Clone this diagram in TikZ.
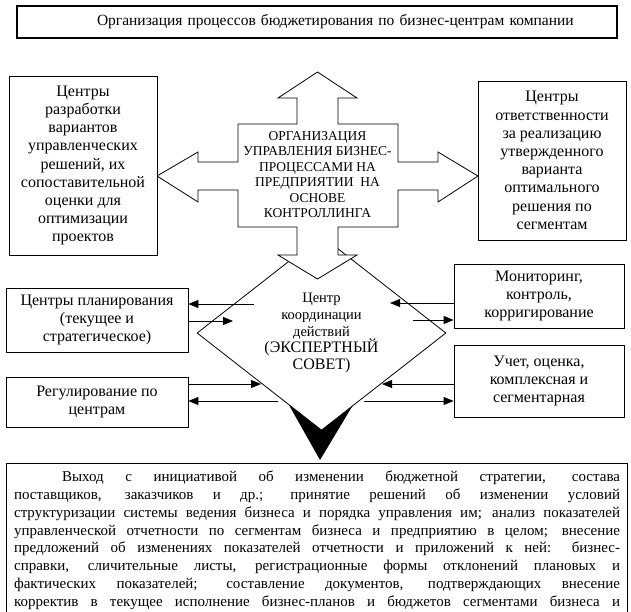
\documentclass[tikz,border=0pt]{standalone}
\usepackage{fontspec}
\setmainfont{Liberation Serif}
\usetikzlibrary{calc,positioning,arrows.meta,shapes}

\begin{document}
\begin{tikzpicture}[x=1pt, y=-1pt, line width=0.8pt]
\tikzstyle{box}=[rectangle, draw, fill=white, inner sep=0pt, align=center,
                 font=\fontsize{16}{18.2}\selectfont]
\tikzstyle{arr}=[-{Triangle[length=10pt,width=8pt]}]
\useasboundingbox (0,0) rectangle (631,612);
\clip (0,0) rectangle (631,612);

\node[box, line width=1.2pt, minimum width=600pt, minimum height=32pt, text width=600pt,
      align=left, font=\fontsize{15.5}{18}\selectfont] (title) at (317,22)
      {\hspace*{80pt}Организация процессов бюджетирования по бизнес-центрам компании};

\fill (285,398) -- (356,400) -- (320,460) -- cycle;
\node[diamond, draw, fill=white, inner sep=0pt, minimum width=249pt, minimum height=187pt,
      align=center, font=\fontsize{14.5}{16.9}\selectfont] (council) at (321.5,333)
      {Центр\\координации\\действий\\{\fontsize{16}{17}\selectfont(ЭКСПЕРТНЫЙ}\\{\fontsize{16}{17}\selectfont СОВЕТ)}};

\draw[fill=white] (317.5,72) -- (357,98) -- (338,98) -- (338,124) -- (398,124) -- (398,162)
  -- (438,162) -- (438,152) -- (478,176) -- (438,202) -- (438,190) -- (398,190)
  -- (398,227) -- (338,227) -- (338,255) -- (357,255) -- (317.5,279) -- (278,255)
  -- (297,255) -- (297,227) -- (238,227) -- (238,190) -- (198,190) -- (198,202)
  -- (157,176) -- (198,152) -- (198,162) -- (238,162) -- (238,124) -- (297,124)
  -- (297,98) -- (278,98) -- cycle;
\node[align=center, inner sep=0pt, font=\fontsize{13.5}{15.4}\selectfont] (org) at (317.5,174.5)
  {ОРГАНИЗАЦИЯ\\УПРАВЛЕНИЯ БИЗНЕС-\\ПРОЦЕССАМИ НА\\ПРЕДПРИЯТИИ\ \ НА\\ОСНОВЕ\\КОНТРОЛЛИНГА};

\node[box, minimum width=148pt, minimum height=179pt] (develop) at (83,165.5)
  {Центры\\разработки\\вариантов\\управленческих\\решений, их\\сопоставительной\\оценки для\\оптимизации\\проектов};
\node[box, minimum width=148pt, minimum height=159pt] (respons) at (552,160.5)
  {Центры\\ответственности\\за реализацию\\утвержденного\\варианта\\оптимального\\решения по\\сегментам};

\node[box, minimum width=182pt, minimum height=64pt] (plan) at (97,320)
  {Центры планирования\\(текущее и\\стратегическое)};
\node[box, minimum width=182pt, minimum height=50pt] (regul) at (97,402)
  {Регулирование по\\центрам};
\node[box, minimum width=170pt, minimum height=64pt] (monit) at (539,296)
  {Мониторинг,\\контроль,\\корригирование};
\node[box, minimum width=170pt, minimum height=72pt] (account) at (539,381)
  {Учет, оценка,\\комплексная и\\сегментарная};

\coordinate (pl1) at (254,304);
\coordinate (pl2) at (233,321);
\coordinate (rg1) at (261,384);
\coordinate (rg2) at (278,401);
\coordinate (mn1) at (390,303);
\coordinate (mn2) at (413,320);
\coordinate (ac1) at (382,384);
\coordinate (ac2) at (364,401);
\draw[arr] (pl1) -- (pl1 -| plan.east);
\draw[arr] (pl2 -| plan.east) -- (pl2);
\draw[arr] (rg1 -| regul.east) -- (rg1);
\draw[arr] (rg2) -- (rg2 -| regul.east);
\draw[arr] (mn1 -| monit.west) -- (mn1);
\draw[arr] (mn2) -- (mn2 -| monit.west);
\draw[arr] (ac1 -| account.west) -- (ac1);
\draw[arr] (ac2) -- (ac2 -| account.west);

\node[draw, line width=1.2pt, anchor=north west, inner xsep=7.5pt, inner ysep=7pt] (output) at (6,463)
  {\parbox[t][170pt][t]{606pt}{\fontsize{15}{17.9}\selectfont\hyphenpenalty=10000\parfillskip=0pt
  \hspace*{48pt}Выход с инициативой об изменении бюджетной стратегии, состава\linebreak
  поставщиков, заказчиков и др.; принятие решений об изменении условий\linebreak
  структуризации системы ведения бизнеса и порядка управления им; анализ показателей\linebreak
  управленческой отчетности по сегментам бизнеса и предприятию в целом; внесение\linebreak
  предложений об изменениях показателей отчетности и приложений к ней: бизнес-\linebreak
  справки, сличительные листы, регистрационные формы отклонений плановых и\linebreak
  фактических показателей; составление документов, подтверждающих внесение\linebreak
  корректив в текущее исполнение бизнес-планов и бюджетов сегментами бизнеса и\par}};
\end{tikzpicture}
\end{document}
